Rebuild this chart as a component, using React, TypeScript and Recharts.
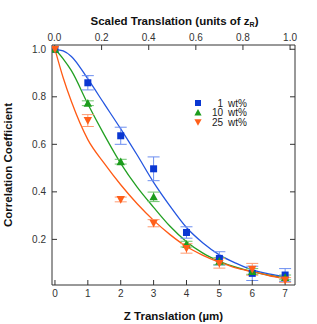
import { ComposedChart, Line, Scatter, XAxis, YAxis, ErrorBar, Legend } from 'recharts';

// measured points
const zPoints = [0, 1, 2, 3, 4, 5, 6, 7];
const wt1 = [1.0, 0.859, 0.636, 0.497, 0.229, 0.12, 0.057, 0.05];
const wt1Err = [0, 0.03, 0.036, 0.05, 0.024, 0.028, 0.03, 0.027];
const wt10 = [1.0, 0.773, 0.527, 0.379, 0.18, 0.108, 0.065, 0.04];
const wt10Err = [0, 0.01, 0.01, 0.02, 0.012, 0.015, 0.012, 0.01];
const wt25 = [1.0, 0.7, 0.368, 0.268, 0.162, 0.099, 0.074, 0.029];
const wt25Err = [0, 0.025, 0.01, 0.015, 0.02, 0.02, 0.025, 0.01];

// fitted curves
const fitZ = [0, 0.25, 0.5, 1, 1.5, 2, 2.5, 3, 3.5, 4, 4.5, 5, 5.5, 6, 6.5, 7];
const wt1Fit = [1.0, 0.993, 0.97, 0.875, 0.77, 0.665, 0.555, 0.44, 0.34, 0.25, 0.185, 0.135, 0.1, 0.072, 0.055, 0.043];
const wt10Fit = [1.0, 0.96, 0.91, 0.77, 0.64, 0.52, 0.42, 0.335, 0.255, 0.19, 0.142, 0.108, 0.083, 0.064, 0.049, 0.037];
const wt25Fit = [1.0, 0.88, 0.78, 0.62, 0.52, 0.43, 0.35, 0.28, 0.22, 0.17, 0.133, 0.104, 0.08, 0.064, 0.048, 0.035];

const bottomTicks = [0, 1, 2, 3, 4, 5, 6, 7];
const topTicks = [0, 0.2, 0.4, 0.6, 0.8, 1.0];
const yTicks = [0.2, 0.4, 0.6, 0.8, 1.0];

const FONT = '"Liberation Sans", Arial, Helvetica, sans-serif';
const AXIS = '#333';

const toPoints = (ys: number[], errs: number[]) => zPoints.map((z, i) => ({ z, y: ys[i], err: errs[i] }));
const toFit = (ys: number[]) => fitZ.map((z, i) => ({ z, y: ys[i] }));

const series = [
    { amount: '1', unit: 'wt%', marker: 'square', color: '#0a37d2', line: '#2456e0', err: '#6d8ff0', points: toPoints(wt1, wt1Err), fit: toFit(wt1Fit) },
    { amount: '10', unit: 'wt%', marker: 'up', color: '#1c9c1c', line: '#22a022', err: '#6cc46c', points: toPoints(wt10, wt10Err), fit: toFit(wt10Fit) },
    { amount: '25', unit: 'wt%', marker: 'down', color: '#ff5f1a', line: '#ff5a14', err: '#ff9a70', points: toPoints(wt25, wt25Err), fit: toFit(wt25Fit) },
];

// top axis only needs something bound to it so it gets drawn
const topAxisData = topTicks.map((s) => ({ s, y: 1 }));

const Marker = ({ kind, cx, cy, color, s = 3.5 }: any) => {
    if (cx == null || cy == null) return null;
    if (kind === 'square') return <rect x={cx - s} y={cy - s} width={s * 2} height={s * 2} fill={color} />;
    if (kind === 'up')
        return <path d={`M${cx},${cy - s * 1.2}L${cx + s * 1.2},${cy + s}L${cx - s * 1.2},${cy + s}Z`} fill={color} />;
    return <path d={`M${cx},${cy + s * 1.2}L${cx + s * 1.2},${cy - s}L${cx - s * 1.2},${cy - s}Z`} fill={color} />;
};

const LegendBox = () => (
    <svg width={62} height={32} style={{ display: 'block' }}>
        {series.map((s, i) => (
            <g key={s.amount} fontSize={10} fontFamily={FONT} fill="#222">
                <Marker kind={s.marker} cx={8} cy={6 + i * 9.6} color={s.color} s={3} />
                <text x={33} y={6 + i * 9.6} dy="0.35em" textAnchor="end">
                    {s.amount}
                </text>
                <text x={38} y={6 + i * 9.6} dy="0.35em">
                    {s.unit}
                </text>
            </g>
        ))}
    </svg>
);

const TopTitle = ({ viewBox }: any) => (
    <text x={viewBox.x + viewBox.width / 2 + 1} y={25} textAnchor="middle" fontSize={11.5} fontWeight={700} fontFamily={FONT} fill="#111">
        Scaled Translation (units of z
        <tspan fontSize={7} dy={2}>R</tspan>
        <tspan dy={-2}>)</tspan>
    </text>
);

const BottomTitle = ({ viewBox }: any) => (
    <text x={viewBox.x + viewBox.width / 2} y={320} textAnchor="middle" fontSize={11.5} fontWeight={700} fontFamily={FONT} fill="#111">
        Z Translation (µm)
    </text>
);

const LeftTitle = ({ viewBox }: any) => {
    const cx = 8;
    const cy = viewBox.y + viewBox.height / 2;
    return (
        <text x={cx} y={cy} transform={`rotate(-90 ${cx} ${cy})`} dy="0.35em" textAnchor="middle" fontSize={11.5} fontWeight={700} fontFamily={FONT} fill="#111">
            Correlation Coefficient
        </text>
    );
};

const tickStyle = { fill: AXIS, fontSize: 10, fontFamily: FONT };

export default function App() {
    return (
        <div style={{ position: 'absolute', left: 0, top: 0, background: '#fff' }}>
            <ComposedChart width={317} height={324} margin={{ top: 0, right: 0, bottom: 0, left: 0 }}>
                <XAxis
                    xAxisId="b"
                    dataKey="z"
                    type="number"
                    orientation="bottom"
                    domain={[-0.09, 7.3]}
                    allowDataOverflow
                    ticks={bottomTicks}
                    height={39}
                    tickSize={-5}
                    tickMargin={10}
                    tick={tickStyle}
                    tickLine={{ stroke: AXIS }}
                    axisLine={{ stroke: AXIS }}
                    label={<BottomTitle />}
                />
                <XAxis
                    xAxisId="t"
                    dataKey="s"
                    type="number"
                    orientation="top"
                    domain={[-0.0106, 1.021]}
                    allowDataOverflow
                    ticks={topTicks}
                    height={45}
                    tickSize={-5}
                    tickMargin={9}
                    tick={tickStyle}
                    tickFormatter={(v: number) => v.toFixed(1)}
                    tickLine={{ stroke: AXIS }}
                    axisLine={{ stroke: AXIS }}
                    label={<TopTitle />}
                />
                <YAxis
                    yAxisId="l"
                    type="number"
                    domain={[0.008, 1.018]}
                    allowDataOverflow
                    ticks={yTicks}
                    width={52}
                    tickSize={-5}
                    tickMargin={11}
                    tick={tickStyle}
                    tickFormatter={(v: number) => v.toFixed(1)}
                    tickLine={{ stroke: AXIS }}
                    axisLine={{ stroke: AXIS }}
                    label={<LeftTitle />}
                />
                <YAxis
                    yAxisId="r"
                    orientation="right"
                    type="number"
                    domain={[0.008, 1.018]}
                    allowDataOverflow
                    ticks={yTicks}
                    width={22}
                    tickSize={-5}
                    tickFormatter={() => ''}
                    tickLine={{ stroke: AXIS }}
                    axisLine={{ stroke: AXIS }}
                />
                <Scatter
                    xAxisId="t"
                    yAxisId="l"
                    data={topAxisData}
                    dataKey="y"
                    isAnimationActive={false}
                    legendType="none"
                    shape={() => <g />}
                />
                {series.map((s) => (
                    <Line
                        key={`fit-${s.amount}`}
                        xAxisId="b"
                        yAxisId="l"
                        data={s.fit}
                        dataKey="y"
                        type="monotone"
                        stroke={s.line}
                        strokeWidth={1.3}
                        dot={false}
                        activeDot={false}
                        isAnimationActive={false}
                        legendType="none"
                    />
                ))}
                {series.map((s) => (
                    <Scatter
                        key={`pts-${s.amount}`}
                        name={`${s.amount} ${s.unit}`}
                        xAxisId="b"
                        yAxisId="l"
                        data={s.points}
                        dataKey="y"
                        isAnimationActive={false}
                        shape={(p: any) => <Marker kind={s.marker} cx={p.cx} cy={p.cy} color={s.color} />}
                    >
                        <ErrorBar dataKey="err" direction="y" width={6} stroke={s.err} strokeWidth={1} />
                    </Scatter>
                ))}
                <Legend
                    layout="vertical"
                    align="center"
                    verticalAlign="middle"
                    content={<LegendBox />}
                    wrapperStyle={{ left: 190, top: 97, width: 62 }}
                />
            </ComposedChart>
        </div>
    );
}
